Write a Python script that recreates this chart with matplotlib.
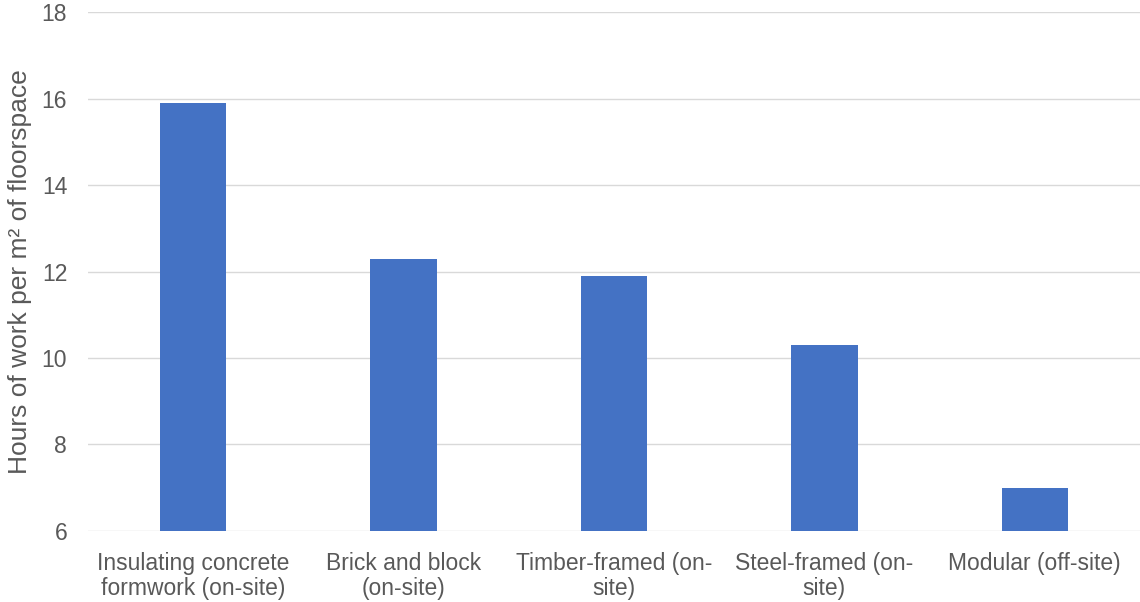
import matplotlib
matplotlib.use("Agg")
import matplotlib.pyplot as plt

categories = ["Insulating concrete\nformwork (on-site)", "Brick and block\n(on-site)",
              "Timber-framed (on-\nsite)", "Steel-framed (on-\nsite)", "Modular (off-site)"]
values = [15.9, 12.3, 11.9, 10.3, 7.0]
yticks = [6, 8, 10, 12, 14, 16, 18]

plt.rcParams['font.family'] = ['Liberation Sans', 'DejaVu Sans']
txt = '#595959'

fig = plt.figure(figsize=(11.4, 6.02), dpi=100)
ax = fig.add_axes([0.0772, 0.118, 0.9228, 0.862])
x = list(range(len(categories)))
ax.bar(x, values, width=0.315, color='#4472C4', zorder=3)
ax.set_ylim(6, 18)
ax.set_xlim(-0.5, 4.5)
ax.set_yticks(yticks)
ax.set_xticks(x)
ax.set_xticklabels(categories, fontsize=16.5, color=txt, linespacing=1.12)
ax.tick_params(axis='y', length=0, pad=15, labelsize=16.5, labelcolor=txt)
ax.tick_params(axis='x', length=0, pad=15)
ax.grid(axis='y', color='#D9D9D9', linewidth=1, zorder=0)
for s in ax.spines.values():
    s.set_visible(False)
ax.set_ylabel("Hours of work per m² of floorspace", fontsize=19, color=txt)
ax.yaxis.set_label_coords(-0.053, 0.5)
fig.savefig("out.png", dpi=100)
